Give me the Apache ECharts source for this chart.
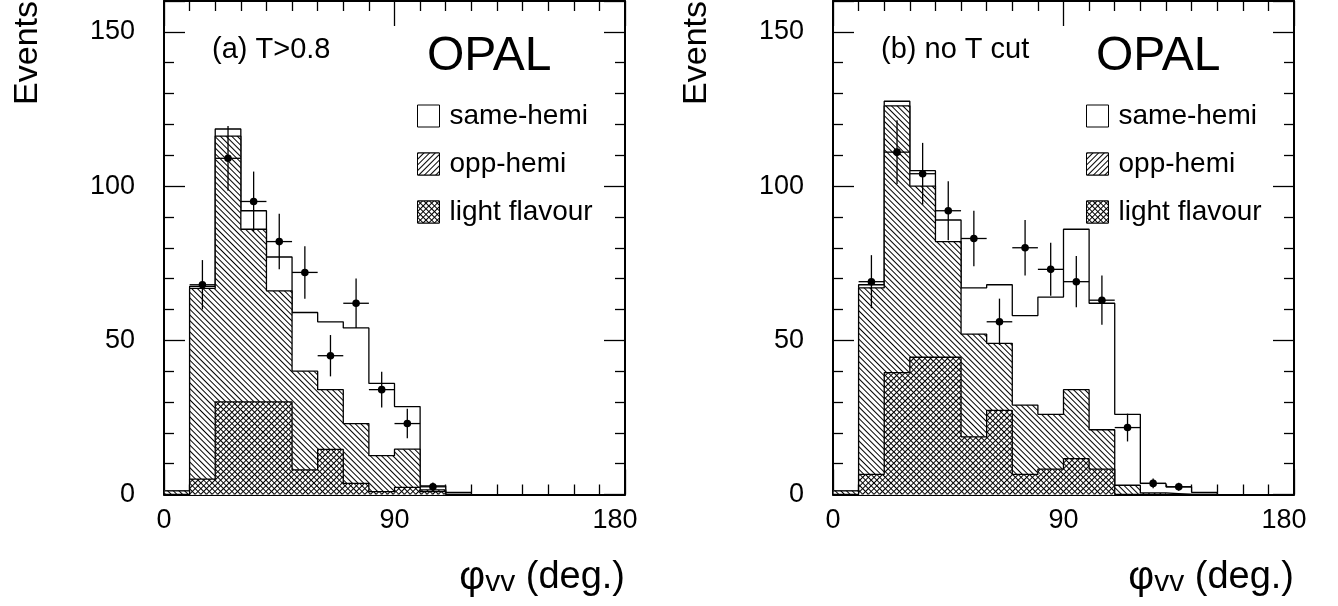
<!DOCTYPE html>
<html>
<head>
<meta charset="utf-8">
<script src="https://cdn.jsdelivr.net/npm/echarts@6/dist/echarts.min.js"></script>
<style>
html,body{margin:0;padding:0;background:#fff;}
#chart{width:1338px;height:606px;}
</style>
</head>
<body>
<div id="chart"></div>
<script>
// ---------------- data ----------------
const binWidth = 10;
const xTickValues = [0, 90, 180];
const yTickValues = [0, 50, 100, 150];
const yMax = 160;

// (a) T>0.8 : histogram bins (low edges) and components
const leftBinLow = [0, 10, 20, 30, 40, 50, 60, 70, 80, 90, 100, 110];
const leftSameHemi = [0, 0.7, 2.3, 6, 11, 19, 22, 31, 23.4, 13.8, 1.3, 0.7];
const leftOppHemi = [1.2, 61.8, 86.2, 56, 36, 32, 19.4, 19.4, 11.7, 12.4, 0.6, 0];
const leftLightFlavour = [0, 5, 30, 30, 30, 8, 14.6, 3.6, 0.9, 2.3, 0.9, 0];
// (a) data points
const leftDataPhi = [15, 25, 35, 45, 55, 65, 75, 85, 95, 105];
const leftDataEvents = [68, 109, 95, 82, 72, 45, 62, 34, 23, 2.5];
const leftDataError = [8, 10.5, 9.7, 9, 8.5, 6.7, 8, 5.8, 4.8, 1.4];

// (b) no T cut
const rightBinLow = [0, 10, 20, 30, 40, 50, 60, 70, 80, 90, 100, 110, 120, 130, 140];
const rightSameHemi = [0, 1, 1.5, 5, 7, 15, 19, 29, 38, 52, 41, 23, 3.1, 2.5, 0.7];
const rightOppHemi = [1.2, 60.5, 86.5, 55.5, 37.5, 33.3, 21.7, 22.5, 17.8, 22.4, 12.8, 3, 0.5, 0, 0];
const rightLightFlavour = [0, 6.5, 39.5, 44.5, 44.5, 18.7, 27.3, 6.5, 8.2, 11.6, 8.2, 0, 0, 0, 0];
const rightDataPhi = [15, 25, 35, 45, 55, 65, 75, 85, 95, 105, 115, 125, 135];
const rightDataEvents = [69, 111, 104, 92, 83, 56, 80, 73, 69, 63, 21.7, 3.6, 2.5];
const rightDataError = [8.6, 10.3, 10, 9.6, 9, 7.5, 9, 8.6, 8.3, 8, 4.5, 1.6, 1.3];

const panelLabels = ['(a) T>0.8', '(b) no T cut'];
const legendNames = ['same-hemi', 'opp-hemi', 'light flavour'];

// ---------------- helpers ----------------
const FONT = "'Liberation Sans', Arial, Helvetica, sans-serif";

function addArrays() {
  const arrs = Array.prototype.slice.call(arguments);
  return arrs[0].map((_, i) => arrs.reduce((s, a) => s + a[i], 0));
}
// histogram outline as polyline through bin corners
function histPoints(lows, values) {
  const pts = [[lows[0], 0]];
  lows.forEach((lo, i) => {
    pts.push([lo, values[i]]);
    pts.push([lo + binWidth, values[i]]);
  });
  pts.push([lows[lows.length - 1] + binWidth, 0]);
  return pts;
}

const hatchDecal = {
  symbol: 'rect', symbolSize: 1, color: '#000', backgroundColor: '#fff',
  dashArrayX: [1, 0], dashArrayY: [1, 3], rotation: Math.PI / 4
};
const hatchDecalLegend = {
  symbol: 'rect', symbolSize: 1, color: '#000', backgroundColor: '#fff',
  dashArrayX: [1, 0], dashArrayY: [1, 3], rotation: -Math.PI / 4
};
const crossDecal = {
  symbol: 'rect', symbolSize: 1, color: '#fff', backgroundColor: '#000',
  dashArrayX: [3, 1], dashArrayY: [3, 1], rotation: Math.PI / 4
};

function histSeries(name, idx, lows, values, decal, z) {
  const s = {
    type: 'line', name: name, xAxisIndex: idx * 2, yAxisIndex: idx * 2,
    data: histPoints(lows, values), symbol: 'none', showSymbol: false,
    silent: true, z: z,
    lineStyle: { color: '#000', width: 1.3 },
    itemStyle: { color: '#fff' },
    areaStyle: { color: '#fff', opacity: 1 }
  };
  if (decal) { s.itemStyle.decal = decal; s.lineStyle.decal = decal; }
  return s;
}

function pointSeries(idx, phi, ev, err) {
  return {
    type: 'custom', xAxisIndex: idx * 2, yAxisIndex: idx * 2, z: 10, silent: true,
    data: phi.map((x, i) => [x, ev[i], err[i]]),
    encode: { x: 0, y: 1 },
    renderItem: function (params, api) {
      const x = api.value(0), y = api.value(1), e = api.value(2);
      const pl = api.coord([x - binWidth / 2, y]);
      const pr = api.coord([x + binWidth / 2, y]);
      const pt = api.coord([x, y + e]);
      const pb = api.coord([x, Math.max(0, y - e)]);
      const c = api.coord([x, y]);
      const st = { stroke: '#000', lineWidth: 1.3 };
      return {
        type: 'group', children: [
          { type: 'line', shape: { x1: pl[0], y1: pl[1], x2: pr[0], y2: pr[1] }, style: st },
          { type: 'line', shape: { x1: pt[0], y1: pt[1], x2: pb[0], y2: pb[1] }, style: st },
          { type: 'circle', shape: { cx: c[0], cy: c[1], r: 3.8 }, style: { fill: '#000' } }
        ]
      };
    }
  };
}

const tickStyle = { color: '#000', width: 1.3 };
function xAxisDef(gridIndex, position, withLabels) {
  const a = {
    type: 'value', gridIndex: gridIndex, position: position,
    min: xTickValues[0], max: xTickValues[xTickValues.length - 1],
    interval: xTickValues[1] - xTickValues[0],
    axisLine: { show: true, onZero: false, lineStyle: { color: '#000', width: 2 } },
    axisTick: { show: true, inside: true, length: 25, lineStyle: tickStyle },
    minorTick: { show: true, splitNumber: 9, length: 10, lineStyle: tickStyle },
    splitLine: { show: false },
    axisLabel: { show: false }
  };
  if (withLabels) {
    a.axisLabel = {
      show: true, margin: 13, fontSize: 27, color: '#000', fontFamily: FONT,
      formatter: function (v) { return v === xTickValues[xTickValues.length - 1] ? '{r|' + v + '}' : String(v); },
      rich: { r: { fontSize: 27, color: '#000', fontFamily: FONT, padding: [0, 20, 0, 0] } }
    };
    a.name = '{phi|φ}{sub|vv} (deg.)';
    a.nameLocation = 'end';
    a.nameGap = 0;
    a.nameMoveOverlap = false;
    a.nameTextStyle = {
      fontSize: 38, lineHeight: 40, color: '#000', fontFamily: FONT,
      align: 'right', verticalAlign: 'top', padding: [63, 0, 0, 0],
      rich: {
        phi: { fontSize: 40, lineHeight: 40, color: '#000', fontFamily: FONT },
        sub: { fontSize: 30, lineHeight: 6, verticalAlign: 'bottom', color: '#000', fontFamily: FONT }
      }
    };
  }
  return a;
}
function yAxisDef(gridIndex, position, withLabels) {
  const a = {
    type: 'value', gridIndex: gridIndex, position: position,
    min: yTickValues[0], max: yMax, interval: yTickValues[1] - yTickValues[0],
    axisLine: { show: true, onZero: false, lineStyle: { color: '#000', width: 2 } },
    axisTick: { show: true, inside: true, length: 21, lineStyle: tickStyle },
    minorTick: { show: true, splitNumber: 5, length: 10, lineStyle: tickStyle },
    splitLine: { show: false },
    axisLabel: { show: false }
  };
  if (withLabels) {
    a.axisLabel = {
      show: true, margin: 29, fontSize: 27, color: '#000', fontFamily: FONT,
      formatter: function (v) { return yTickValues.indexOf(v) >= 0 ? String(v) : ''; }
    };
    a.name = 'Events';
    a.nameLocation = 'end';
    a.nameRotate = 90;
    a.nameGap = 0;
    a.nameMoveOverlap = false;
    a.nameTextStyle = {
      fontSize: 34, lineHeight: 34, color: '#000', fontFamily: FONT,
      align: 'right', verticalAlign: 'bottom', padding: [0, 0, 119, 0]
    };
  }
  return a;
}

function legendDef(left) {
  return {
    orient: 'vertical', left: left, top: 102, icon: 'rect', padding: 0,
    itemWidth: 22, itemHeight: 22, itemGap: 20, selectedMode: false,
    itemStyle: { color: '#fff', borderColor: '#000', borderWidth: 1 },
    textStyle: { fontSize: 28, lineHeight: 22, color: '#000', fontFamily: FONT, padding: [0, 0, 0, 5] },
    data: [
      { name: legendNames[0] },
      { name: legendNames[1], itemStyle: { decal: hatchDecalLegend } },
      { name: legendNames[2] }
    ]
  };
}

function titleDef(text, left, top, size) {
  return { text: text, left: left, top: top, padding: 0,
    textStyle: { fontSize: size, lineHeight: size, fontWeight: 'normal', color: '#000', fontFamily: FONT } };
}

const leftOppCum = addArrays(leftOppHemi, leftLightFlavour);
const leftTotal = addArrays(leftSameHemi, leftOppHemi, leftLightFlavour);
const rightOppCum = addArrays(rightOppHemi, rightLightFlavour);
const rightTotal = addArrays(rightSameHemi, rightOppHemi, rightLightFlavour);

const option = {
  animation: false,
  backgroundColor: '#fff',
  title: [
    titleDef(panelLabels[0], 212, 35, 29),
    titleDef('OPAL', 427, 33, 48),
    titleDef(panelLabels[1], 881, 35, 29),
    titleDef('OPAL', 1096, 33, 48)
  ],
  legend: [legendDef(417), legendDef(1086)],
  grid: [
    { left: 164, top: 1, width: 461, height: 493.5, outerBoundsMode: 'none', containLabel: false },
    { left: 833, top: 1, width: 461, height: 493.5, outerBoundsMode: 'none', containLabel: false }
  ],
  xAxis: [
    xAxisDef(0, 'bottom', true), xAxisDef(0, 'top', false),
    xAxisDef(1, 'bottom', true), xAxisDef(1, 'top', false)
  ],
  yAxis: [
    yAxisDef(0, 'left', true), yAxisDef(0, 'right', false),
    yAxisDef(1, 'left', true), yAxisDef(1, 'right', false)
  ],
  series: [
    histSeries(legendNames[0], 0, leftBinLow, leftTotal, null, 2),
    histSeries(legendNames[1], 0, leftBinLow, leftOppCum, hatchDecal, 3),
    histSeries(legendNames[2], 0, leftBinLow, leftLightFlavour, crossDecal, 4),
    pointSeries(0, leftDataPhi, leftDataEvents, leftDataError),
    histSeries(legendNames[0], 1, rightBinLow, rightTotal, null, 2),
    histSeries(legendNames[1], 1, rightBinLow, rightOppCum, hatchDecal, 3),
    histSeries(legendNames[2], 1, rightBinLow, rightLightFlavour, crossDecal, 4),
    pointSeries(1, rightDataPhi, rightDataEvents, rightDataError)
  ]
};

const chart = echarts.init(document.getElementById('chart'), null, { renderer: 'canvas', devicePixelRatio: 1 });
chart.setOption(option);
</script>
</body>
</html>
